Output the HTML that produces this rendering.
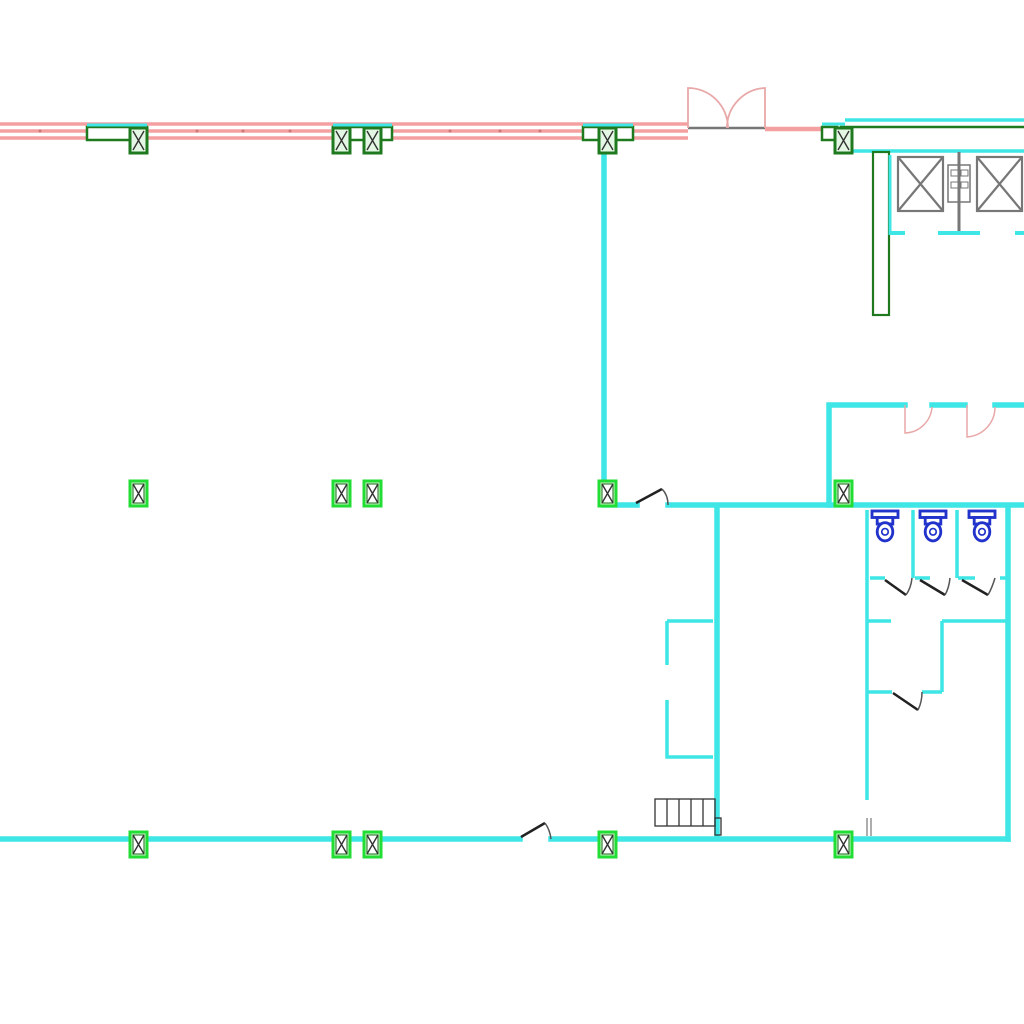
<!DOCTYPE html>
<html><head><meta charset="utf-8"><style>
html,body{margin:0;padding:0;background:#fff;width:1024px;height:1024px;overflow:hidden}
svg{display:block}
</style></head><body>
<svg width="1024" height="1024" viewBox="0 0 1024 1024" xmlns="http://www.w3.org/2000/svg">
<defs>
<g id="col">
<rect x="0" y="0" width="17" height="25" fill="#c8f5c8" stroke="#22dd33" stroke-width="3"/>
<rect x="3" y="3" width="11" height="19" fill="#fff" stroke="#1a6a1a" stroke-width="1"/>
<path d="M3 3 L14 22 M14 3 L3 22" stroke="#333" stroke-width="1.4"/>
</g>
<g id="colt">
<rect x="0" y="0" width="17" height="25" fill="#e4f7e4" stroke="#1f7a1f" stroke-width="3"/>
<path d="M3 3 L14 22 M14 3 L3 22" stroke="#333" stroke-width="1.4"/>
</g>
<g id="wc" transform="scale(1.3)">
<rect x="-10" y="0" width="20" height="5" fill="#fff" stroke="#2233cc" stroke-width="2.2"/>
<rect x="-6" y="5" width="12" height="5" fill="#fff" stroke="#2233cc" stroke-width="2.2"/>
<ellipse cx="0" cy="16" rx="6" ry="7" fill="#fff" stroke="#2233cc" stroke-width="2.2"/>
<ellipse cx="0" cy="16" rx="2.5" ry="2.5" fill="none" stroke="#2233cc" stroke-width="1.3"/>
</g>
</defs>
<g fill="none">
<g stroke="#f4a0a0" stroke-width="3.5">
<path d="M0 124 H688 M0 131 H688 M0 138 H688"/>
<path d="M765 129 H822" stroke-width="4.5"/>
</g>
<g fill="#c77">
<circle cx="40" cy="131" r="1.5"/><circle cx="197" cy="131" r="1.5"/><circle cx="243" cy="131" r="1.5"/><circle cx="290" cy="131" r="1.5"/><circle cx="450" cy="131" r="1.5"/><circle cx="500" cy="131" r="1.5"/><circle cx="540" cy="131" r="1.5"/>
</g>
<path d="M688 128 H765" stroke="#777" stroke-width="2.5"/>
<path d="M688 128 V88 A40 40 0 0 1 728 128 M765 128 V88 A40 40 0 0 0 727 128" stroke="#e9a8a8" stroke-width="1.8"/>
<g stroke="#1f7a1f" stroke-width="2.5" fill="#fff">
<rect x="87" y="127" width="60" height="13"/>
<rect x="333" y="127" width="59" height="13"/>
<rect x="583" y="127" width="50" height="13"/>
<rect x="822" y="127" width="15" height="13"/>
</g>
<g stroke="#3ee6e6" stroke-width="3">
<path d="M87 125 H147 M333 125 H392 M583 125 H633 M822 124 H845"/>
</g>
<path d="M845 120 H1024" stroke="#3ee6e6" stroke-width="3.5"/>
<path d="M840 127 H1024" stroke="#1f7a1f" stroke-width="2.5"/>
<path d="M850 151 H1024" stroke="#3ee6e6" stroke-width="3.5"/>
<rect x="873" y="152" width="16" height="163" stroke="#1f7a1f" stroke-width="2.2"/>
<path d="M890 155 V235" stroke="#3ee6e6" stroke-width="3"/>
<g stroke="#777" stroke-width="2.2">
<rect x="898" y="157" width="45" height="54"/>
<path d="M898 157 L943 211 M943 157 L898 211"/>
<rect x="977" y="157" width="45" height="54"/>
<path d="M977 157 L1022 211 M1022 157 L977 211"/>
<path d="M959 152 V231" stroke-width="3"/>
<rect x="948" y="165" width="22" height="37" stroke-width="1.5"/>
<rect x="951" y="170" width="7" height="6" stroke-width="1"/><rect x="961" y="170" width="7" height="6" stroke-width="1"/>
<rect x="951" y="182" width="7" height="6" stroke-width="1"/><rect x="961" y="182" width="7" height="6" stroke-width="1"/>
</g>
<path d="M890 233 H905 M938 233 H980 M1015 233 H1024" stroke="#3ee6e6" stroke-width="4"/>
<g stroke="#3ee6e6" stroke-width="5.5" stroke-linecap="square">
<path d="M604 152 V504"/>
<path d="M604 505 H637 M668 505 H1024"/>
<path d="M829 505 V405 H905 M932 405 H965 M995 405 H1024"/>
<path d="M0 839 H520 M551 839 H1008"/>
<path d="M717 510 V835"/>
<path d="M1008 510 V839"/>
</g>
<g stroke="#3ee6e6" stroke-width="3.5">
<path d="M867 510 V800"/>
<path d="M913 510 V578 M957 510 V578"/>
<path d="M870 578 H885 M915 578 H930 M958 578 H975 M1000 578 H1006"/>
<path d="M867 621 H891"/>
<path d="M942 621 H1006 M942 621 V692 M922 692 H942 M867 692 H892"/>
<path d="M667 621 H713 M667 621 V665 M667 700 V757 H713"/>
</g>
<path d="M867 818 V836 M871 818 V836" stroke="#777" stroke-width="1.2"/>
<g stroke="#222" stroke-width="2.5">
<path d="M636 503 L662 489"/><path d="M662 489 Q668 495 668 505" stroke="#555" stroke-width="1.5"/>
<path d="M521 837 L545 823"/><path d="M545 823 Q550 830 551 839" stroke="#555" stroke-width="1.5"/>
<path d="M885 580 L906 595"/><path d="M906 595 Q911 588 912 578" stroke="#555" stroke-width="1.5"/>
<path d="M920 580 L945 595"/><path d="M945 595 Q949 588 950 578" stroke="#555" stroke-width="1.5"/>
<path d="M962 580 L988 595"/><path d="M988 595 Q992 588 995 578" stroke="#555" stroke-width="1.5"/>
<path d="M893 693 L918 710"/><path d="M918 710 Q922 702 922 692" stroke="#555" stroke-width="1.5"/>
</g>
<g stroke="#e9a8a8" stroke-width="1.5">
<path d="M905 405 V433 A28 28 0 0 0 932 407"/>
<path d="M967 405 V437 A30 30 0 0 0 995 407"/>
</g>
<g stroke="#333" stroke-width="1.3">
<rect x="655" y="799" width="60" height="27"/>
<path d="M667 799 V826 M679 799 V826 M691 799 V826 M703 799 V826"/>
<rect x="715" y="818" width="6" height="17"/>
</g>
</g>
<use href="#wc" x="885" y="511"/>
<use href="#wc" x="933" y="511"/>
<use href="#wc" x="982" y="511"/>
<use href="#colt" x="130" y="128"/>
<use href="#colt" x="333" y="128"/>
<use href="#colt" x="364" y="128"/>
<use href="#colt" x="599" y="128"/>
<use href="#colt" x="835" y="128"/>
<use href="#col" x="130" y="481"/>
<use href="#col" x="333" y="481"/>
<use href="#col" x="364" y="481"/>
<use href="#col" x="599" y="481"/>
<use href="#col" x="835" y="481"/>
<use href="#col" x="130" y="832"/>
<use href="#col" x="333" y="832"/>
<use href="#col" x="364" y="832"/>
<use href="#col" x="599" y="832"/>
<use href="#col" x="835" y="832"/>
</svg>
</body></html>
